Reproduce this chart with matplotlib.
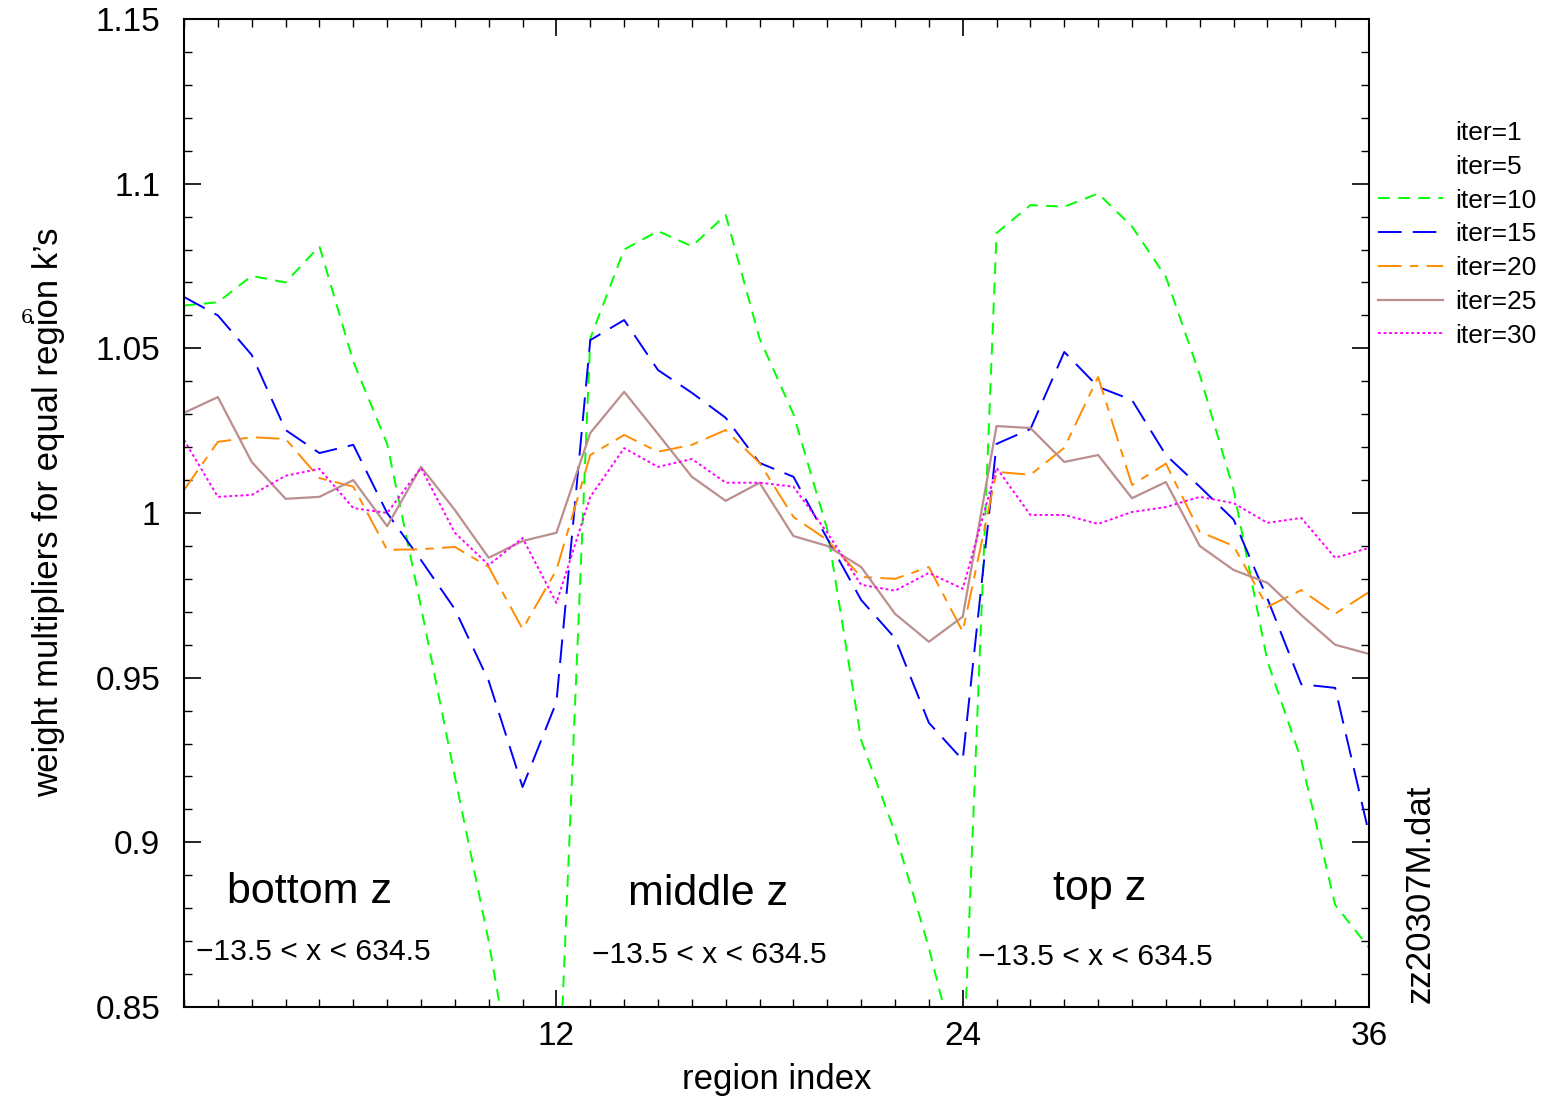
import matplotlib
matplotlib.use("Agg")
import matplotlib.pyplot as plt
from matplotlib.ticker import MultipleLocator, FuncFormatter

plt.rcParams['font.family'] = ['Liberation Sans', 'DejaVu Sans']
plt.rcParams['lines.scale_dashes'] = False

region = list(range(1, 37))

# iter=1 and iter=5 draw nothing inside the plotted range
iter1 = []
iter5 = []

iter10 = [1.063, 1.064, 1.072, 1.070, 1.081, 1.046, 1.021, 0.9715, 0.920, 0.870,
          0.810, 0.806, 1.053, 1.080, 1.0856, 1.081, 1.0905, 1.053, 1.030, 0.995,
          0.931, 0.903, 0.868, 0.827, 1.085, 1.0935, 1.093, 1.097, 1.087, 1.0717,
          1.042, 1.007, 0.955, 0.925, 0.881, 0.868]
iter15 = [1.0656, 1.060, 1.048, 1.0252, 1.0182, 1.0207, 1.000, 0.9857, 0.9708, 0.949,
          0.9168, 0.9426, 1.0525, 1.0586, 1.0434, 1.0365, 1.0289, 1.0152, 1.011, 0.9922,
          0.9736, 0.962, 0.9363, 0.925, 1.021, 1.0255, 1.0489, 1.0383, 1.0343, 1.0176,
          1.008, 0.998, 0.974, 0.948, 0.9469, 0.9026]
iter20 = [1.007, 1.0216, 1.023, 1.0225, 1.0106, 1.008, 0.9888, 0.989, 0.9897, 0.9836,
          0.9648, 0.9827, 1.0176, 1.0237, 1.0186, 1.0207, 1.0252, 1.0152, 0.9988, 0.9918,
          0.9806, 0.980, 0.9836, 0.964, 1.0125, 1.0116, 1.0198, 1.0413, 1.0085, 1.015,
          0.9943, 0.990, 0.9715, 0.9766, 0.9694, 0.976]
iter25 = [1.0304, 1.0352, 1.0155, 1.0043, 1.0049, 1.010, 0.996, 1.014, 1.0009, 0.9864,
          0.9915, 0.994, 1.0243, 1.0368, 1.024, 1.011, 1.0037, 1.0092, 0.993, 0.990,
          0.9836, 0.9694, 0.9609, 0.9685, 1.0264, 1.0258, 1.0155, 1.0176, 1.0045, 1.0094,
          0.990, 0.9827, 0.9788, 0.969, 0.960, 0.9572]
iter30 = [1.0222, 1.0049, 1.0055, 1.0113, 1.0134, 1.0015, 1.000, 1.0137, 0.994, 0.9842,
          0.9924, 0.9727, 1.0049, 1.0197, 1.014, 1.0164, 1.0092, 1.0092, 1.008, 0.994,
          0.9782, 0.9764, 0.9818, 0.977, 1.0137, 0.9994, 0.9994, 0.9967, 1.0003, 1.0018,
          1.0049, 1.003, 0.997, 0.9985, 0.9864, 0.9894]

fig = plt.figure(figsize=(15.5, 11.07), dpi=100)
ax = fig.add_axes([184/1550, 1-1007/1107, (1369-184)/1550, (1007-19)/1107])

lw = 1.4
ax.plot(region[:0], iter1, ls='none', label='iter=1')
ax.plot(region[:0], iter5, ls='none', label='iter=5')
ax.plot(region, iter10, color='#00ff00', lw=lw, dashes=(8.5, 6), label='iter=10')
ax.plot(region, iter15, color='#0000ff', lw=lw, dashes=(17, 8), label='iter=15')
ax.plot(region, iter20, color='#ff8c00', lw=lw, dashes=(17, 6, 6, 6), label='iter=20')
ax.plot(region, iter25, color='#bc8f8f', lw=lw * 1.15, label='iter=25')
ax.plot(region, iter30, color='#ff00ff', lw=lw, dashes=(2, 2), label='iter=30')

ax.set_xlim(1, 36)
ax.set_ylim(0.85, 1.15)
ax.xaxis.set_major_locator(MultipleLocator(12))
ax.xaxis.set_minor_locator(MultipleLocator(1))
ax.yaxis.set_major_locator(MultipleLocator(0.05))
ax.yaxis.set_minor_locator(MultipleLocator(0.01))
ax.yaxis.set_major_formatter(FuncFormatter(lambda v, p: '%g' % round(v, 3)))
ax.tick_params(which='both', direction='in', top=True, right=True, labelsize=24)
ax.tick_params(which='major', length=12, width=1.2)
ax.tick_params(which='minor', length=6, width=1)
ax.tick_params(axis='y', pad=17)
ax.tick_params(axis='x', pad=10)
for s in ax.spines.values():
    s.set_linewidth(1.5)

ax.set_xlabel('region index', fontsize=25, labelpad=8)
fig.text(49/1550, 1-512/1107, 'weight multipliers for equal region k\u2019s',
         rotation=90, fontsize=25, ha='center', va='center')
fig.text(27/1550, 1-318/1107, '6', fontsize=14, family='DejaVu Serif',
         ha='center', va='center')

for xt, yt, s in [(2.27, 0.8816, 'bottom z'), (14.12, 0.881, 'middle z'),
                  (26.66, 0.8825, 'top z')]:
    ax.text(xt, yt, s, fontsize=31, ha='left', va='baseline')
for xt, yt in [(1.355, 0.8643), (13.06, 0.8634), (24.44, 0.8628)]:
    ax.text(xt, yt, '\u221213.5 < x < 634.5', fontsize=21.6, ha='left', va='baseline')

fig.text(1420/1550, 1-1003/1107, 'zz20307M.dat', rotation=90, fontsize=25,
         ha='center', va='bottom')

ax.legend(loc='upper left', bbox_to_anchor=(1378/1550, 1-121/1107),
          bbox_transform=fig.transFigure, frameon=False, fontsize=19,
          handlelength=2.46, handletextpad=0.45, labelspacing=0.37,
          borderpad=0, borderaxespad=0)

fig.savefig('out.png', dpi=100)
